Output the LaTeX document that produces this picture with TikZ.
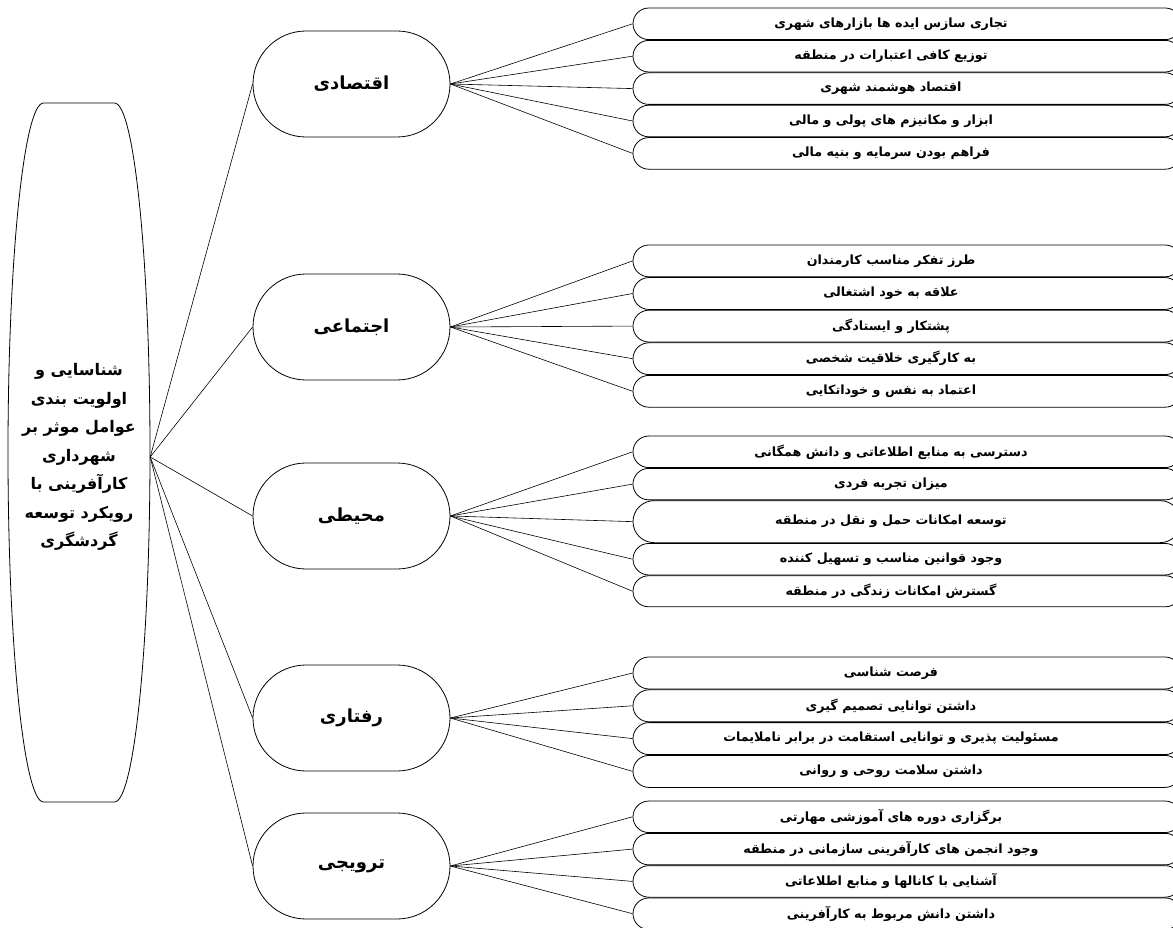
\documentclass[tikz,border=0pt]{standalone}
\usepackage{fontspec}
\usetikzlibrary{positioning,shapes.misc}
\TeXXeTstate=1
\newfontfamily\fafont[Script=Arabic]{DejaVu Sans}
\newcommand{\rl}[1]{\beginR #1\endR}

\begin{document}
\begin{tikzpicture}[x=1pt, y=-1pt, node distance=0pt,
  factor/.style={rounded rectangle, draw, line width=0.8pt, minimum width=197pt, minimum height=106pt, inner sep=0pt,
    font=\fafont\bfseries\fontsize{18}{21}\selectfont},
  item/.style={rounded rectangle, draw, line width=0.8pt, minimum width=548pt, minimum height=31.6pt, inner sep=0pt,
    font=\fafont\bfseries\fontsize{12.7}{14}\selectfont, execute at end node={\hspace*{32pt}}},
  link/.style={line width=0.6pt}]
\clip (0,0) rectangle (1173,928);

% main goal
\node (goal) [minimum width=142pt, minimum height=699pt, inner sep=0pt, align=center,
  font=\fafont\bfseries\fontsize{16}{28.5}\selectfont] at (79,457)
  {\rl{شناسایی و}\\ \rl{اولویت بندی}\\ \rl{عوامل موثر بر}\\ \rl{شهرداری}\\
   \rl{کارآفرینی با}\\ \rl{رویکرد توسعه}\\ \rl{گردشگری}};
\draw[line width=0.8pt] (43.5,103) -- (114.5,103)
  arc[start angle=-90, end angle=90, x radius=35.5, y radius=349.5] -- (43.5,802)
  arc[start angle=90, end angle=270, x radius=35.5, y radius=349.5] -- cycle;

% factors
\node (econ) [factor] at (351.5,84) {\rl{اقتصادی}};
\node (soc) [factor] at (351.5,327) {\rl{اجتماعی}};
\node (env) [factor] at (351.5,516) {\rl{محیطی}};
\node (behav) [factor] at (351.5,718) {\rl{رفتاری}};
\node (promo) [factor] at (351.5,866) {\rl{ترویجی}};

% economic
\node (econ1) [item] at (907,23.8) {\rl{تجاری سازس ایده ها بازارهای شهری}};
\node (econ2) [item, below=of econ1] {\rl{توزیع کافی اعتبارات در منطقه}};
\node (econ3) [item, below=of econ2] {\rl{اقتصاد هوشمند شهری}};
\node (econ4) [item, below=of econ3] {\rl{ابزار و مکانیزم های پولی و مالی}};
\node (econ5) [item, below=of econ4] {\rl{فراهم بودن سرمایه و بنیه مالی}};

% social
\node (soc1) [item, minimum height=31.8pt] at (907,260.9) {\rl{طرز تفکر مناسب کارمندان}};
\node (soc2) [item, minimum height=31.8pt, below=of soc1] {\rl{علاقه به خود اشتغالی}};
\node (soc3) [item, minimum height=31.8pt, below=of soc2] {\rl{پشتکار و ایستادگی}};
\node (soc4) [item, minimum height=31.8pt, below=of soc3] {\rl{به کارگیری خلاقیت شخصی}};
\node (soc5) [item, minimum height=31.8pt, below=of soc4] {\rl{اعتماد به نفس و خوداتکایی}};

% environmental
\node (env1) [item, minimum height=31.5pt] at (907,451.8) {\rl{دسترسی به منابع اطلاعاتی و دانش همگانی}};
\node (env2) [item, minimum height=31.5pt, below=of env1] {\rl{میزان تجربه فردی}};
\node (env3) [item, minimum height=42pt, below=of env2] {\rl{توسعه امکانات حمل و نقل در منطقه}};
\node (env4) [item, minimum height=31.5pt, below=of env3] {\rl{وجود قوانین مناسب و تسهیل کننده}};
\node (env5) [item, minimum height=31pt, below=of env4] {\rl{گسترش امکانات زندگی در منطقه}};

% behavioural
\node (behav1) [item, minimum height=32pt] at (907,673) {\rl{فرصت شناسی}};
\node (behav2) [item, minimum height=32pt, below=of behav1] {\rl{داشتن توانایی تصمیم گیری}};
\node (behav3) [item, minimum height=32pt, below=of behav2] {\rl{مسئولیت پذیری و توانایی استقامت در برابر ناملایمات}};
\node (behav4) [item, minimum height=32pt, below=of behav3] {\rl{داشتن سلامت روحی و روانی}};

% promotional
\node (promo1) [item, minimum height=31.5pt] at (907,816.8) {\rl{برگزاری دوره های آموزشی مهارتی}};
\node (promo2) [item, minimum height=31.5pt, below=of promo1] {\rl{وجود انجمن های کارآفرینی سازمانی در منطقه}};
\node (promo3) [item, minimum height=31.5pt, below=of promo2] {\rl{آشنایی با کانالها و منابع اطلاعاتی}};
\node (promo4) [item, minimum height=31.5pt, below=of promo3] {\rl{داشتن دانش مربوط به کارآفرینی}};

\draw[link] (goal.east) to (econ.west);
\draw[link] (goal.east) to (soc.west);
\draw[link] (goal.east) to (env.west);
\draw[link] (goal.east) to (behav.west);
\draw[link] (goal.east) to (promo.west);

\draw[link] (econ.east) to (econ1.west);
\draw[link] (econ.east) to (econ2.west);
\draw[link] (econ.east) to (econ3.west);
\draw[link] (econ.east) to (econ4.west);
\draw[link] (econ.east) to (econ5.west);

\draw[link] (soc.east) to (soc1.west);
\draw[link] (soc.east) to (soc2.west);
\draw[link] (soc.east) to (soc3.west);
\draw[link] (soc.east) to (soc4.west);
\draw[link] (soc.east) to (soc5.west);

\draw[link] (env.east) to (env1.west);
\draw[link] (env.east) to (env2.west);
\draw[link] (env.east) to (env3.west);
\draw[link] (env.east) to (env4.west);
\draw[link] (env.east) to (env5.west);

\draw[link] (behav.east) to (behav1.west);
\draw[link] (behav.east) to (behav2.west);
\draw[link] (behav.east) to (behav3.west);
\draw[link] (behav.east) to (behav4.west);

\draw[link] (promo.east) to (promo1.west);
\draw[link] (promo.east) to (promo2.west);
\draw[link] (promo.east) to (promo3.west);
\draw[link] (promo.east) to (promo4.west);
\end{tikzpicture}
\end{document}
